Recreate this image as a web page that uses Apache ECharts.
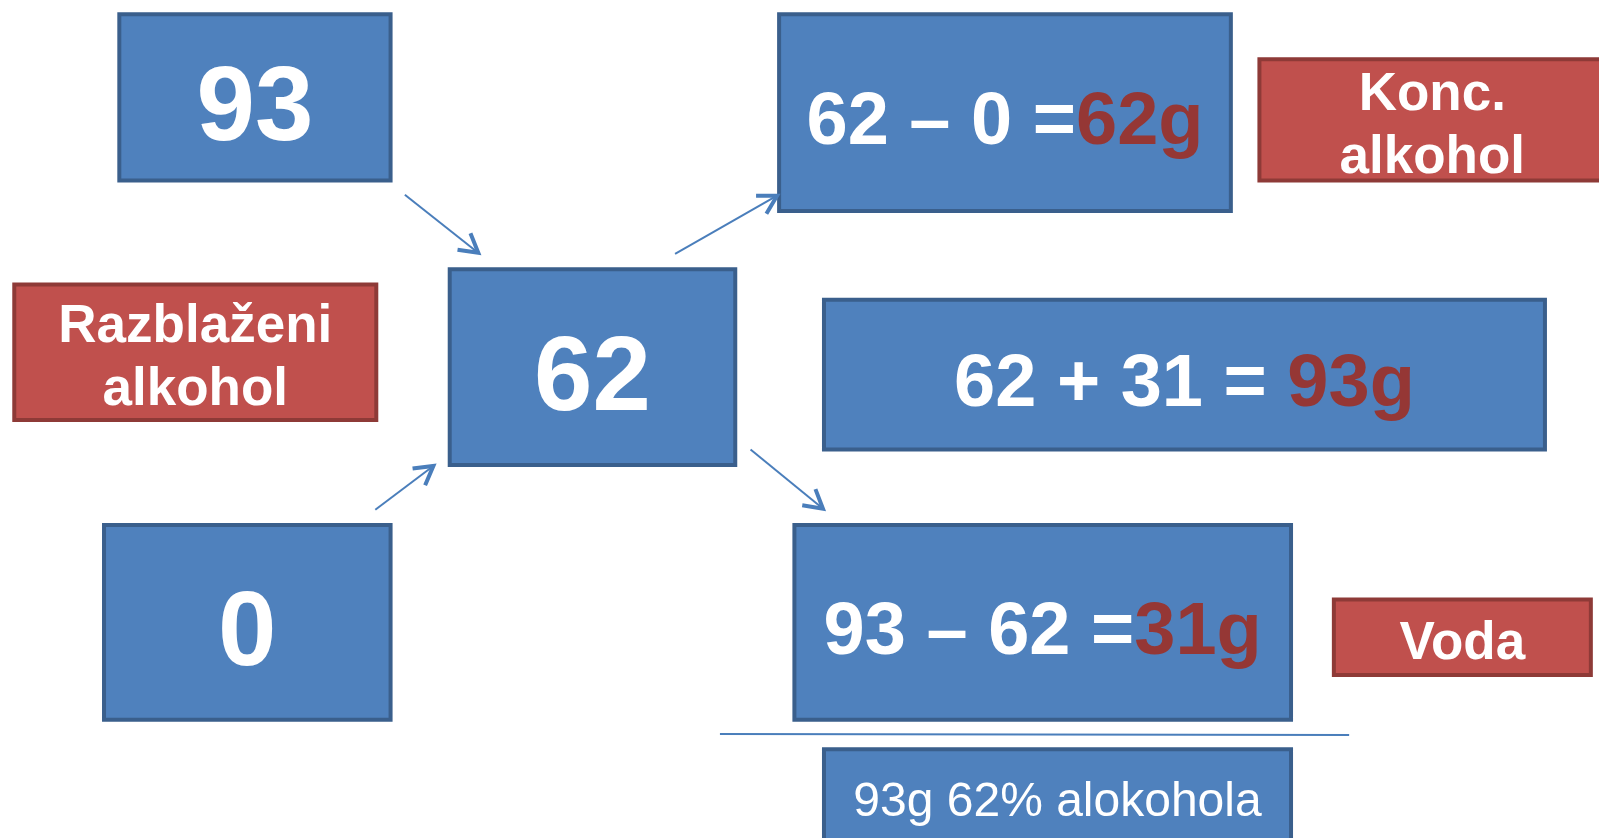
<!DOCTYPE html>
<html>
<head>
<meta charset="utf-8">
<script src="https://cdn.jsdelivr.net/npm/echarts@6/dist/echarts.min.js"></script>
<style>
html,body{margin:0;padding:0;background:#fff;}
#chart{width:1599px;height:838px;}
</style>
</head>
<body>
<div id="chart"></div>
<script>
// ---- diagram content ----
const boxTexts   = ['93', '62', '0', '62 – 0 =', '62 + 31 = ', '93 – 62 =', '93g 62% alokohola', 'Razblaženi\nalkohol', 'Konc.\nalkohol', 'Voda'];
const boxResults = ['', '', '', '62g', '93g', '31g', '', '', '', ''];
const boxKinds   = ['big', 'big', 'big', 'eq', 'eq', 'eq', 'note', 'tag', 'tag', 'tag'];
// box extents in diagram units (x to the right, y downward)
const boxX0 = [117, 441, 102, 764, 808, 779, 808, 14, 1235, 1308];
const boxY0 = [14, 264, 515, 14, 294, 515, 735, 279, 58, 588];
const boxX1 = [383, 721, 383, 1207, 1515, 1266, 1266, 369, 1574, 1560];
const boxY1 = [177, 456, 706, 207, 441, 706, 832, 412, 177, 662];
// arrows: start and end points
const arrowFromX = [397, 662, 368, 736];
const arrowFromY = [191, 249, 500, 441];
const arrowToX   = [469, 762, 425, 807];
const arrowToY   = [248, 192, 457, 499];
// separator line
const ruleX = [706, 1323];
const ruleY = [720, 721];

const W = 1568, H = 822;
const BLUE = '#4F81BD', BLUE_EDGE = '#3A5F8C';
const RED = '#C0504D', RED_EDGE = '#8E3A37';
const RED_TEXT = '#953735';
const FONT = '"Liberation Sans", Arial, sans-serif';
const TEXT_SHIFT = { big: 14, eq: 11, note: 4, tag: 7 };

const boxData = boxTexts.map((t, i) => [boxX0[i], boxY0[i], boxX1[i], boxY1[i], i]);
const arrowData = arrowFromX.map((x, i) => [x, arrowFromY[i], arrowToX[i], arrowToY[i]]);
const ruleData = ruleX.map((x, i) => [x, ruleY[i]]);

function renderBox(params, api) {
  const i = api.value(4);
  const p0 = api.coord([api.value(0), api.value(1)]);
  const p1 = api.coord([api.value(2), api.value(3)]);
  const kind = boxKinds[i];
  const isTag = kind === 'tag';
  const cx = (p0[0] + p1[0]) / 2;
  const cy = (p0[1] + p1[1]) / 2 + TEXT_SHIFT[kind];
  const children = [{
    type: 'rect',
    shape: { x: p0[0], y: p0[1], width: p1[0] - p0[0], height: p1[1] - p0[1] },
    style: { fill: isTag ? RED : BLUE, stroke: isTag ? RED_EDGE : BLUE_EDGE, lineWidth: 4 }
  }];
  let textStyle;
  if (kind === 'big') {
    textStyle = { text: boxTexts[i], fill: '#fff', font: 'bold 105px ' + FONT };
  } else if (kind === 'eq') {
    textStyle = {
      text: '{w|' + boxTexts[i] + '}{r|' + boxResults[i] + '}',
      rich: {
        w: { fill: '#fff', fontSize: 74, fontWeight: 'bold', fontFamily: FONT },
        r: { fill: RED_TEXT, fontSize: 74, fontWeight: 'bold', fontFamily: FONT }
      }
    };
  } else if (kind === 'note') {
    textStyle = { text: boxTexts[i], fill: '#fff', font: '48px ' + FONT };
  } else {
    textStyle = { text: boxTexts[i], fill: '#fff', font: 'bold 53px ' + FONT, lineHeight: 63 };
  }
  textStyle.x = cx; textStyle.y = cy;
  textStyle.align = 'center'; textStyle.verticalAlign = 'middle';
  children.push({ type: 'text', style: textStyle });
  return { type: 'group', children: children };
}

function renderArrow(params, api) {
  const a = api.coord([api.value(0), api.value(1)]);
  const b = api.coord([api.value(2), api.value(3)]);
  const ang = Math.atan2(b[1] - a[1], b[0] - a[0]);
  const L = 21, spread = 0.52;
  const h1 = [b[0] - L * Math.cos(ang - spread), b[1] - L * Math.sin(ang - spread)];
  const h2 = [b[0] - L * Math.cos(ang + spread), b[1] - L * Math.sin(ang + spread)];
  return {
    type: 'group',
    children: [
      { type: 'line', shape: { x1: a[0], y1: a[1], x2: b[0] - 3 * Math.cos(ang), y2: b[1] - 3 * Math.sin(ang) },
        style: { stroke: '#4A7EBB', lineWidth: 2 } },
      { type: 'polyline', shape: { points: [h1, b, h2] },
        style: { stroke: '#4A7EBB', lineWidth: 4, fill: null, lineJoin: 'miter' } }
    ]
  };
}

const chart = echarts.init(document.getElementById('chart'), null, { renderer: 'canvas' });
chart.setOption({
  animation: false,
  backgroundColor: '#fff',
  grid: { left: 0, right: 0, top: 0, bottom: 0 },
  xAxis: { type: 'value', min: 0, max: W, show: false },
  yAxis: { type: 'value', min: 0, max: H, inverse: true, show: false },
  series: [
    { type: 'line', data: ruleData, symbol: 'none', lineStyle: { color: '#4A7EBB', width: 2 }, silent: true, z: 1 },
    { type: 'custom', renderItem: renderBox, data: boxData, clip: false, z: 2,
      encode: { x: [0, 2], y: [1, 3] } },
    { type: 'custom', renderItem: renderArrow, data: arrowData, clip: false, z: 3,
      encode: { x: [0, 2], y: [1, 3] } }
  ]
});
</script>
</body>
</html>
